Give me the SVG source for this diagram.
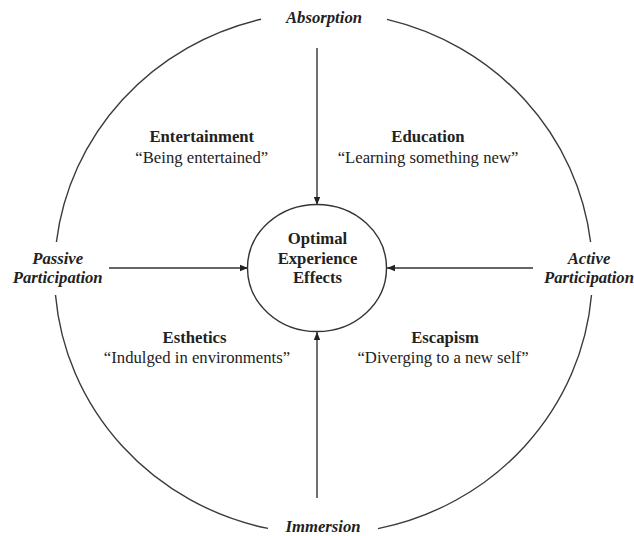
<svg xmlns="http://www.w3.org/2000/svg" width="634" height="536" viewBox="0 0 634 536">
<style>
text{font-family:"Liberation Serif","Tinos","Times New Roman","DejaVu Serif","Noto Serif",serif;font-size:16.7px;fill:#222;text-anchor:middle}
.b{font-weight:bold}
.bi{font-weight:bold;font-style:italic}
.ring{fill:none;stroke:#3a3a3a;stroke-width:1.4}
.conn{fill:none;stroke:#333;stroke-width:1.4;marker-end:url(#ah)}
</style>
<defs>
<marker id="ah" viewBox="0 0 10 10" refX="10" refY="5" markerWidth="8" markerHeight="8" markerUnits="userSpaceOnUse" orient="auto">
<path d="M0,1 L10,5 L0,9 Z" fill="#222"/>
</marker>
</defs>
<rect width="634" height="536" fill="#fff"/>
<g id="outer-ring">
<path class="ring" d="M56.4,242 A269,261 0 0 1 261,19.2"/>
<path class="ring" d="M387,19.4 A269,261 0 0 1 590.6,242"/>
<path class="ring" d="M591.5,295 A269,261 0 0 1 378,528.6"/>
<path class="ring" d="M268,528.4 A269,261 0 0 1 55.5,295"/>
</g>
<g id="connectors">
<line class="conn" x1="317" y1="48" x2="317" y2="205"/>
<line class="conn" x1="317" y1="498" x2="317" y2="332"/>
<line class="conn" x1="109" y1="268" x2="248" y2="268"/>
<line class="conn" x1="533" y1="268" x2="387" y2="268"/>
</g>
<g id="center">
<ellipse cx="317" cy="268" rx="69.5" ry="63.5" fill="#fff" stroke="#333" stroke-width="1.4"/>
<text class="b" x="317.5" y="244">Optimal</text>
<text class="b" x="317.5" y="264">Experience</text>
<text class="b" x="317.5" y="283">Effects</text>
</g>
<g id="absorption"><text class="bi" x="324" y="23">Absorption</text></g>
<g id="immersion"><text class="bi" x="323" y="532">Immersion</text></g>
<g id="passive"><text class="bi" x="57.7" y="264">Passive</text><text class="bi" x="57.7" y="283">Participation</text></g>
<g id="active"><text class="bi" x="589" y="264">Active</text><text class="bi" x="589" y="283">Participation</text></g>
<g id="entertainment"><text class="b" x="201.8" y="142">Entertainment</text><text x="201.8" y="163">“Being entertained”</text></g>
<g id="education"><text class="b" x="428" y="142">Education</text><text x="428" y="163">“Learning something new”</text></g>
<g id="esthetics"><text class="b" x="194.5" y="343">Esthetics</text><text x="197" y="363">“Indulged in environments”</text></g>
<g id="escapism"><text class="b" x="445" y="343">Escapism</text><text x="443" y="363">“Diverging to a new self”</text></g>
</svg>
